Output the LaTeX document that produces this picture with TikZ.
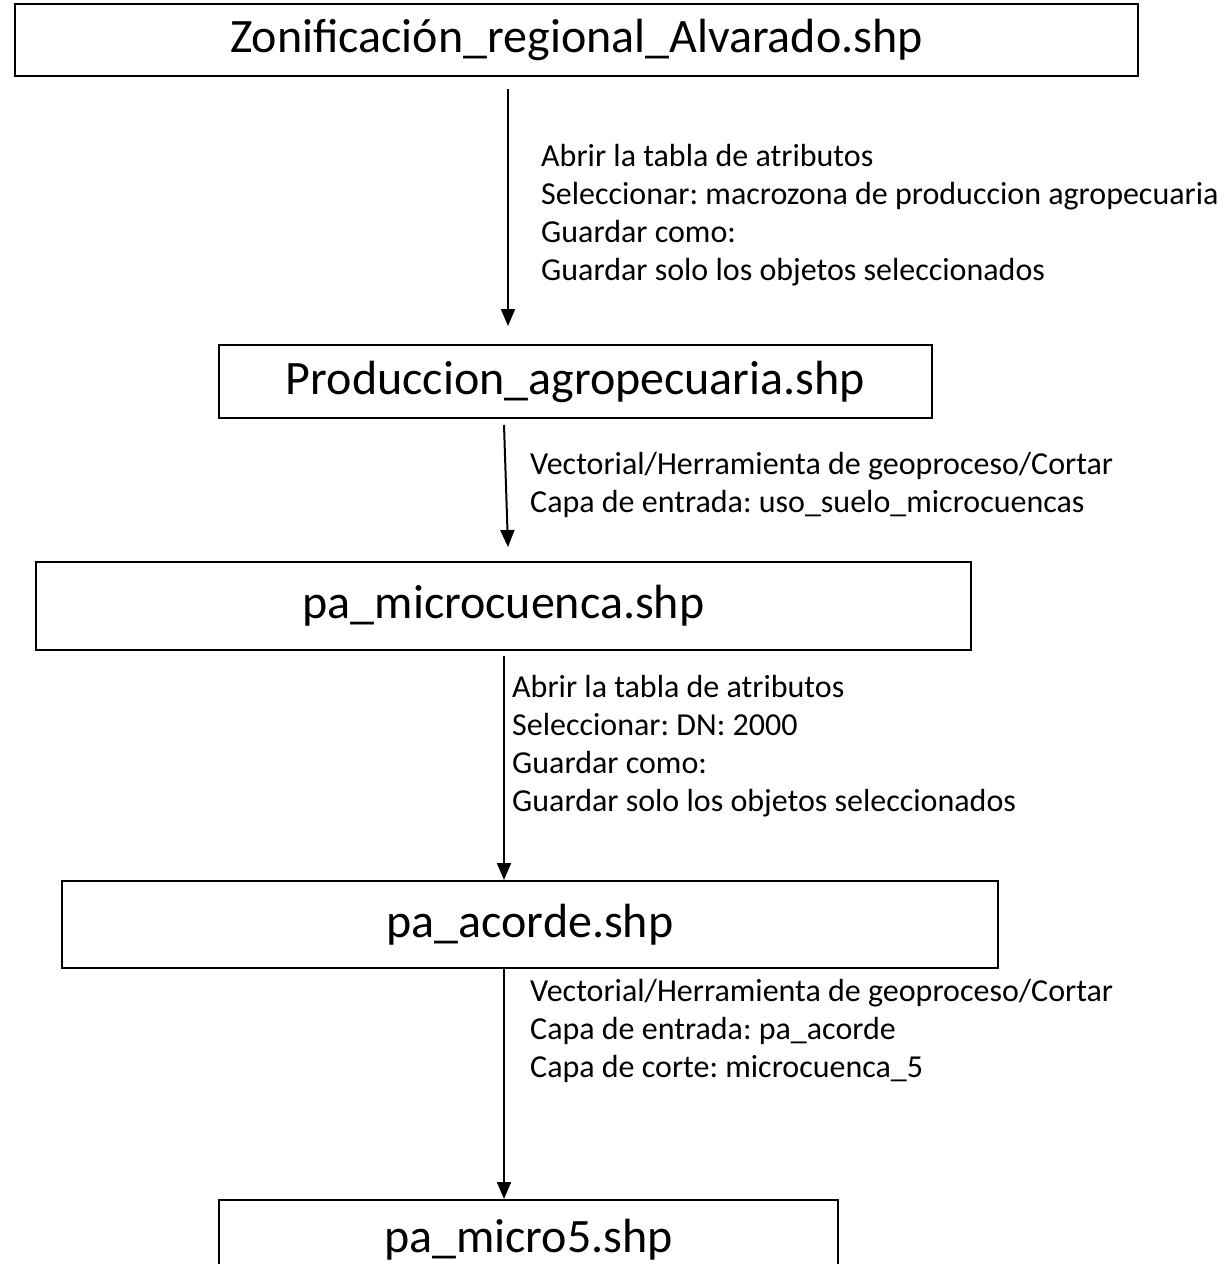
\documentclass[tikz,border=0pt]{standalone}
\usepackage{fontspec}
\setmainfont{Carlito}
\frenchspacing
\usetikzlibrary{arrows.meta}
\begin{document}
\begin{tikzpicture}[x=1pt,y=-1pt,
  box/.style={draw=black,line width=2pt,inner sep=0pt,font=\fontsize{48}{56}\selectfont},
  arr/.style={line width=2pt,-{Triangle[width=14pt,length=17pt]}},
  lbl/.style={anchor=base west,inner sep=0pt,align=left,font=\fontsize{32}{37.8}\selectfont}]
\useasboundingbox (0,0) rectangle (1228,1264);
\clip (0,0) rectangle (1228,1264);
\node[box,minimum width=1123pt,minimum height=72pt] (z) at (576.5,40) {Zonificación\_regional\_Alvarado.shp};
\node[box,minimum width=713pt,minimum height=73pt] (p) at (575.5,381.5) {Produccion\_agropecuaria.shp};
\node[box,minimum width=935pt,minimum height=88pt] (m) at (503.5,606) {pa\_microcuenca.shp};
\node[box,minimum width=936pt,minimum height=87pt] (a) at (530,924.5) {pa\_acorde.shp};
\node[box,minimum width=619pt,minimum height=90pt] (f) at (528.5,1245) {};
\node[inner sep=0pt,font=\fontsize{48}{56}\selectfont] (ft) at (528.5,1240) {pa\_micro5.shp};
\draw[arr] ([xshift=-68.5pt,yshift=-12pt]z.south) -- ([xshift=-67.5pt,yshift=18pt]p.north);
\draw[arr] ([xshift=-71.5pt,yshift=-6pt]p.south) -- ([xshift=4.5pt,yshift=14pt]m.north);
\draw[arr] ([xshift=0.5pt,yshift=-5pt]m.south) -- ([xshift=-26pt]a.north);
\draw[arr] ([xshift=-26pt]a.south) -- ([xshift=-24.5pt]f.north);
\node[lbl] (l1) at (541,280) {Abrir la tabla de atributos\\Seleccionar: macrozona de produccion agropecuaria\\Guardar como:\\Guardar solo los objetos seleccionados};
\node[lbl] (l2) at (530,512) {Vectorial/Herramienta de geoproceso/Cortar\\Capa de entrada: uso\_suelo\_microcuencas};
\node[lbl] (l3) at (512,811) {Abrir la tabla de atributos\\Seleccionar: DN: 2000\\Guardar como:\\Guardar solo los objetos seleccionados};
\node[lbl] (l4) at (530,1077) {Vectorial/Herramienta de geoproceso/Cortar\\Capa de entrada: pa\_acorde\\Capa de corte: microcuenca\_5};
\end{tikzpicture}
\end{document}
